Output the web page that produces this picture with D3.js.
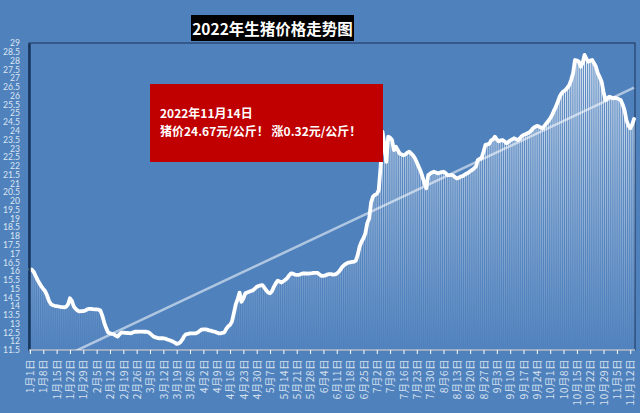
<!DOCTYPE html>
<html>
<head>
<meta charset="utf-8">
<script src="https://cdn.jsdelivr.net/npm/d3@7"></script>
<style>
  html, body { margin: 0; padding: 0; background: #4f81bd; }
  svg { display: block; }
</style>
</head>
<body>
<svg id="chart" width="640" height="413"></svg>
<script>
// ---------------- DATA ----------------
const chartTitle = "2022年生猪价格走势图";
const noteLines = ["2022年11月14日", "猪价24.67元/公斤！ 涨0.32元/公斤！"];
const startDate = new Date(2022, 0, 1);

// daily price (元/公斤), 2022-01-01 .. 2022-11-14
const prices = [
  16.10, 16.08, 15.95, 15.72, 15.50, 15.30, 15.12,
  14.98, 14.85, 14.60, 14.30, 14.12, 14.05, 14.02,
  14.00, 13.98, 13.96, 13.95, 13.93, 13.97, 14.10,
  14.45, 14.30, 13.98, 13.85, 13.75, 13.70, 13.72,
  13.72, 13.75, 13.82, 13.84, 13.85, 13.83, 13.82,
  13.82, 13.80, 13.75, 13.45, 13.05, 12.75, 12.50,
  12.45, 12.42, 12.40, 12.32, 12.26, 12.40, 12.49,
  12.49, 12.48, 12.47, 12.46, 12.45, 12.50, 12.54,
  12.54, 12.55, 12.55, 12.55, 12.54, 12.54, 12.52,
  12.45, 12.35, 12.26, 12.22, 12.18, 12.17, 12.17,
  12.17, 12.15, 12.10, 12.07, 12.03, 11.98, 11.92,
  11.85, 11.88, 11.95, 12.10, 12.30, 12.40, 12.42,
  12.45, 12.45, 12.45, 12.45, 12.50, 12.58, 12.66,
  12.68, 12.68, 12.66, 12.62, 12.60, 12.56, 12.54,
  12.50, 12.45, 12.45, 12.47, 12.50, 12.70, 12.85,
  12.93, 13.12, 13.60, 14.10, 14.40, 14.77, 14.25,
  14.45, 14.73, 14.78, 14.82, 14.86, 14.90, 15.00,
  15.10, 15.15, 15.18, 15.20, 15.05, 14.90, 14.78,
  14.73, 14.85, 15.10, 15.30, 15.45, 15.40, 15.35,
  15.42, 15.50, 15.60, 15.75, 15.87, 15.85, 15.80,
  15.78, 15.78, 15.82, 15.86, 15.87, 15.86, 15.85,
  15.87, 15.88, 15.90, 15.90, 15.90, 15.80, 15.72,
  15.72, 15.75, 15.80, 15.83, 15.82, 15.80, 15.81,
  15.85, 15.95, 16.10, 16.25, 16.35, 16.42, 16.48,
  16.50, 16.52, 16.53, 16.60, 16.92, 17.40, 17.67,
  17.87, 18.15, 18.73, 19.00, 19.90, 20.24, 20.34,
  20.40, 20.60, 21.95, 23.94, 23.20, 22.23, 23.66,
  23.60, 23.47, 22.90, 23.09, 22.90, 22.70, 22.65,
  22.60, 22.65, 22.75, 22.80, 22.70, 22.60, 22.43,
  22.20, 21.95, 21.70, 21.38, 21.00, 20.72, 21.47,
  21.55, 21.62, 21.66, 21.62, 21.57, 21.60, 21.64,
  21.66, 21.60, 21.47, 21.47, 21.47, 21.45, 21.35,
  21.28, 21.32, 21.38, 21.41, 21.48, 21.55, 21.60,
  21.70, 21.76, 21.85, 21.95, 22.33, 22.40, 22.45,
  22.80, 23.19, 23.22, 23.25, 23.45, 23.51, 23.66,
  23.50, 23.40, 23.45, 23.47, 23.40, 23.28, 23.35,
  23.45, 23.50, 23.57, 23.52, 23.47, 23.55, 23.68,
  23.76, 23.80, 23.85, 23.90, 24.00, 24.14, 24.22,
  24.27, 24.25, 24.18, 24.14, 24.28, 24.42, 24.55,
  24.71, 24.90, 25.15, 25.37, 25.65, 25.95, 26.13,
  26.25, 26.32, 26.45, 26.60, 26.90, 27.27, 28.03,
  28.00, 27.95, 27.65, 27.85, 28.32, 28.10, 27.93,
  28.00, 28.03, 27.85, 27.65, 27.27, 27.05, 26.79,
  26.20, 25.75, 25.85, 25.94, 25.90, 25.85, 25.87,
  25.85, 25.80, 25.75, 25.50, 25.18, 24.60, 24.30,
  24.14, 24.35, 24.67
];

// linear trend line values at first and last day
const trendEnds = [10.22, 26.45];

const yTicks = [11.5, 12, 12.5, 13, 13.5, 14, 14.5, 15, 15.5, 16, 16.5, 17, 17.5,
  18, 18.5, 19, 19.5, 20, 20.5, 21, 21.5, 22, 22.5, 23, 23.5, 24, 24.5, 25, 25.5,
  26, 26.5, 27, 27.5, 28, 28.5, 29];

const xTickLabels = [
  "1月1日", "1月8日", "1月15日", "1月22日", "1月29日",
  "2月5日", "2月12日", "2月19日", "2月26日",
  "3月5日", "3月12日", "3月19日", "3月26日",
  "4月2日", "4月9日", "4月16日", "4月23日", "4月30日",
  "5月7日", "5月14日", "5月21日", "5月28日",
  "6月4日", "6月11日", "6月18日", "6月25日",
  "7月2日", "7月9日", "7月16日", "7月23日", "7月30日",
  "8月6日", "8月13日", "8月20日", "8月27日",
  "9月3日", "9月10日", "9月17日", "9月24日",
  "10月1日", "10月8日", "10月15日", "10月22日", "10月29日",
  "11月5日", "11月12日"
];

// ---------------- DRAW ----------------
const W = 640, H = 413;
const plot = { left: 29, right: 635, top: 43, bottom: 350 };
const n = prices.length;
const dates = d3.range(n).map(i => d3.timeDay.offset(startDate, i));
const tickDays = xTickLabels.map((_, i) => i * 7);

const svg = d3.select("#chart");
svg.append("rect").attr("width", W).attr("height", H).attr("fill", "#4f81bd");

const x = d3.scaleBand().domain(d3.range(n))
  .range([plot.left, plot.right]).paddingInner(0.5).paddingOuter(0.25);
const xc = i => x(i) + x.bandwidth() / 2;
const xl = d3.scaleLinear().domain([0, n - 1]).range([xc(0), xc(n - 1)]);
const y = d3.scaleLinear().domain([11.5, 29]).range([plot.bottom, plot.top]);

const defs = svg.append("defs");
const grad = defs.append("linearGradient").attr("id", "barGrad")
  .attr("gradientUnits", "userSpaceOnUse")
  .attr("x1", 0).attr("x2", 0).attr("y1", plot.top).attr("y2", plot.bottom);
grad.append("stop").attr("offset", "0%").attr("stop-color", "#ffffff").attr("stop-opacity", 0.95);
grad.append("stop").attr("offset", "40%").attr("stop-color", "#ffffff").attr("stop-opacity", 0.55);
grad.append("stop").attr("offset", "100%").attr("stop-color", "#ffffff").attr("stop-opacity", 0.02);

defs.append("clipPath").attr("id", "plotClip").append("rect")
  .attr("x", plot.left).attr("y", plot.top)
  .attr("width", plot.right - plot.left).attr("height", plot.bottom - plot.top);

// plot border
svg.append("rect")
  .attr("x", plot.left).attr("y", plot.top)
  .attr("width", plot.right - plot.left).attr("height", plot.bottom - plot.top)
  .attr("fill", "none").attr("stroke", "#1a3358").attr("stroke-width", 1);

// bars
svg.append("g").selectAll("rect").data(prices).join("rect")
  .attr("x", (d, i) => x(i))
  .attr("width", Math.max(1, x.bandwidth()))
  .attr("y", d => y(d))
  .attr("height", d => plot.bottom - y(d))
  .attr("fill", "url(#barGrad)");

// trend line
svg.append("line")
  .attr("clip-path", "url(#plotClip)")
  .attr("x1", xl(0)).attr("y1", y(trendEnds[0]))
  .attr("x2", xl(n - 1)).attr("y2", y(trendEnds[1]))
  .attr("stroke", "#ffffff").attr("stroke-opacity", 0.55).attr("stroke-width", 2.5);

// price line
svg.append("path").datum(prices)
  .attr("fill", "none")
  .attr("stroke", "#ffffff")
  .attr("stroke-width", 3.8)
  .attr("stroke-linejoin", "round")
  .attr("stroke-linecap", "round")
  .attr("d", d3.line().x((d, i) => xc(i)).y(d => y(d)));

// y axis
const yAxis = svg.append("g").attr("transform", `translate(${plot.left},0)`)
  .call(d3.axisLeft(y).tickValues(yTicks).tickSize(0).tickSizeOuter(0).tickPadding(9).tickFormat(d => String(d)));
yAxis.select(".domain").attr("stroke", "#17365d").attr("stroke-width", 2.5);
yAxis.selectAll("text")
  .attr("fill", "#dce6f2")
  .style("font-family", "Lato, 'Liberation Sans', sans-serif")
  .style("font-size", "8.6px");

// x axis
const xAxis = svg.append("g").attr("transform", `translate(0,${plot.bottom})`)
  .call(d3.axisBottom(xl).tickValues(tickDays).tickSize(4).tickSizeOuter(0)
    .tickFormat((d, i) => xTickLabels[i]));
xAxis.select(".domain").remove();
xAxis.append("line").attr("x1", plot.left).attr("x2", plot.right)
  .attr("y1", 0).attr("y2", 0).attr("stroke", "#ffffff").attr("stroke-width", 1.2);
xAxis.selectAll(".tick line").attr("stroke", "#ffffff").attr("stroke-width", 1);
xAxis.selectAll("text")
  .attr("transform", "rotate(-90)")
  .attr("x", -9).attr("y", 0).attr("dy", "0.35em")
  .attr("text-anchor", "end")
  .attr("fill", "#d5e0ee")
  .style("font-family", "'Noto Sans CJK SC', sans-serif")
  .style("font-size", "10.5px")
  .style("letter-spacing", "0.4px");

// title
const tg = svg.append("g");
tg.append("rect").attr("x", 191).attr("y", 15).attr("width", 163).attr("height", 26).attr("fill", "#000000");
tg.append("text").attr("x", 272.5).attr("y", 35)
  .attr("text-anchor", "middle").attr("fill", "#ffffff")
  .style("font-family", "'Noto Sans CJK SC', sans-serif")
  .style("font-size", "15.5px").style("font-weight", "bold")
  .text(chartTitle);

// annotation box
const ng = svg.append("g");
ng.append("rect").attr("x", 150).attr("y", 84).attr("width", 233).attr("height", 78).attr("fill", "#c00000");
ng.selectAll("text").data(noteLines).join("text")
  .attr("x", 160).attr("y", (d, i) => 118 + i * 18)
  .attr("fill", "#ffffff")
  .style("font-family", "'Noto Sans CJK SC', sans-serif")
  .style("font-size", "12px").style("font-weight", "bold")
  .text(d => d);
</script>
</body>
</html>
